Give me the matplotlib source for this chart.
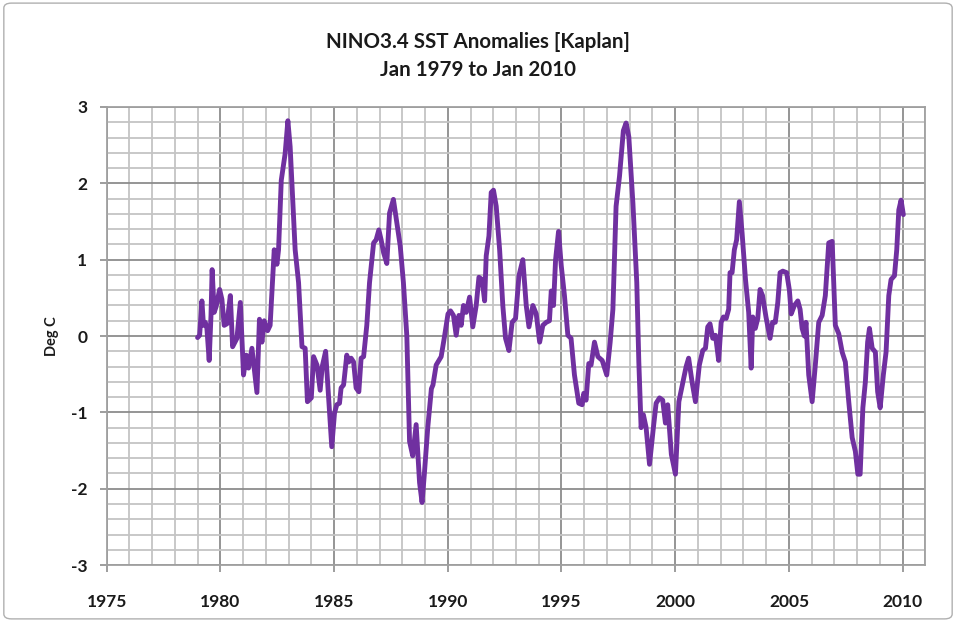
import matplotlib
matplotlib.use("Agg")
import matplotlib.pyplot as plt
from matplotlib.patches import FancyBboxPatch
from matplotlib.ticker import MultipleLocator

# Traced turning points of the monthly NINO3.4 series (decimal year, deg C)
years = [
    1979.00, 1979.09, 1979.19, 1979.26, 1979.34, 1979.41, 1979.51, 1979.59, 1979.64, 1979.73,
    1979.82, 1979.97, 1980.07, 1980.17, 1980.29, 1980.44, 1980.54, 1980.73, 1980.88, 1981.02,
    1981.14, 1981.24, 1981.39, 1981.61, 1981.72, 1981.83, 1981.93, 1982.08, 1982.19, 1982.37,
    1982.49, 1982.56, 1982.68, 1982.85, 1982.97, 1983.07, 1983.29, 1983.44, 1983.59, 1983.73,
    1983.83, 1984.00, 1984.10, 1984.25, 1984.39, 1984.48, 1984.63, 1984.77, 1984.90, 1985.02,
    1985.12, 1985.24, 1985.31, 1985.42, 1985.56, 1985.65, 1985.75, 1985.86, 1985.97, 1986.09,
    1986.19, 1986.30, 1986.44, 1986.56, 1986.74, 1986.85, 1986.97, 1987.07, 1987.18, 1987.32,
    1987.44, 1987.61, 1987.76, 1987.91, 1988.05, 1988.20, 1988.32, 1988.46, 1988.61, 1988.76,
    1988.87, 1988.97, 1989.12, 1989.28, 1989.35, 1989.49, 1989.71, 1989.86, 1990.01, 1990.12,
    1990.25, 1990.37, 1990.49, 1990.59, 1990.69, 1990.81, 1990.96, 1991.10, 1991.25, 1991.37,
    1991.51, 1991.62, 1991.69, 1991.81, 1991.91, 1992.01, 1992.13, 1992.28, 1992.42, 1992.54,
    1992.69, 1992.83, 1992.98, 1993.13, 1993.30, 1993.45, 1993.57, 1993.74, 1993.89, 1994.04,
    1994.18, 1994.33, 1994.47, 1994.55, 1994.65, 1994.74, 1994.87, 1994.99, 1995.13, 1995.28,
    1995.42, 1995.57, 1995.76, 1995.91, 1995.98, 1996.08, 1996.20, 1996.30, 1996.45, 1996.60,
    1996.79, 1996.99, 1997.14, 1997.26, 1997.40, 1997.55, 1997.72, 1997.84, 1997.96, 1998.14,
    1998.31, 1998.40, 1998.50, 1998.60, 1998.72, 1998.87, 1999.04, 1999.16, 1999.31, 1999.45,
    1999.57, 1999.67, 1999.83, 2000.01, 2000.16, 2000.30, 2000.48, 2000.59, 2000.74, 2000.89,
    2001.06, 2001.21, 2001.33, 2001.43, 2001.53, 2001.65, 2001.77, 2001.91, 2002.02, 2002.12,
    2002.24, 2002.35, 2002.41, 2002.50, 2002.60, 2002.70, 2002.82, 2002.94, 2003.09, 2003.23,
    2003.34, 2003.41, 2003.52, 2003.63, 2003.73, 2003.84, 2003.99, 2004.17, 2004.28, 2004.40,
    2004.51, 2004.61, 2004.73, 2004.90, 2005.02, 2005.10, 2005.24, 2005.39, 2005.49, 2005.58,
    2005.68, 2005.75, 2005.87, 2006.02, 2006.16, 2006.31, 2006.46, 2006.60, 2006.75, 2006.90,
    2007.04, 2007.19, 2007.34, 2007.48, 2007.63, 2007.78, 2007.92, 2008.03, 2008.13, 2008.25,
    2008.36, 2008.46, 2008.54, 2008.66, 2008.80, 2008.90, 2009.01, 2009.15, 2009.27, 2009.39,
    2009.49, 2009.64, 2009.74, 2009.83, 2009.93, 2010.03,
]
anomaly = [
    -0.02, 0.01, 0.46, 0.14, 0.18, 0.10, -0.32, 0.27, 0.87, 0.31,
    0.39, 0.61, 0.48, 0.14, 0.16, 0.53, -0.14, -0.03, 0.44, -0.51,
    -0.25, -0.42, -0.16, -0.74, 0.22, -0.08, 0.20, 0.07, 0.14, 1.13,
    0.94, 1.13, 2.04, 2.39, 2.82, 2.48, 1.13, 0.70, -0.14, -0.16,
    -0.86, -0.81, -0.27, -0.38, -0.71, -0.40, -0.20, -0.86, -1.45, -1.01,
    -0.90, -0.88, -0.68, -0.64, -0.25, -0.34, -0.29, -0.34, -0.68, -0.73,
    -0.29, -0.27, 0.14, 0.70, 1.22, 1.26, 1.39, 1.26, 1.09, 0.95,
    1.61, 1.79, 1.48, 1.18, 0.70, 0.00, -1.38, -1.57, -1.16, -1.92,
    -2.18, -1.81, -1.20, -0.69, -0.64, -0.38, -0.27, 0.00, 0.29, 0.33,
    0.27, 0.01, 0.27, 0.14, 0.40, 0.31, 0.51, 0.12, 0.40, 0.77,
    0.74, 0.46, 1.05, 1.31, 1.88, 1.91, 1.70, 1.13, 0.40, -0.03,
    -0.19, 0.18, 0.23, 0.79, 1.00, 0.40, 0.12, 0.40, 0.29, -0.08,
    0.14, 0.18, 0.20, 0.59, 0.40, 1.00, 1.37, 0.92, 0.53, 0.01,
    -0.03, -0.51, -0.88, -0.90, -0.75, -0.84, -0.36, -0.38, -0.08, -0.27,
    -0.32, -0.51, -0.08, 0.35, 1.70, 2.09, 2.69, 2.79, 2.61, 1.74,
    0.70, -0.34, -1.20, -1.03, -1.20, -1.68, -1.20, -0.88, -0.81, -0.84,
    -1.14, -0.90, -1.55, -1.81, -0.86, -0.66, -0.40, -0.29, -0.60, -0.86,
    -0.38, -0.19, -0.16, 0.12, 0.16, -0.03, 0.01, -0.32, 0.18, 0.25,
    0.23, 0.35, 0.83, 0.83, 1.13, 1.26, 1.76, 1.35, 0.74, 0.31,
    -0.42, 0.25, 0.10, 0.23, 0.61, 0.53, 0.25, -0.03, 0.18, 0.18,
    0.44, 0.83, 0.85, 0.83, 0.60, 0.29, 0.40, 0.46, 0.35, 0.10,
    0.00, 0.18, -0.51, -0.86, -0.38, 0.18, 0.27, 0.53, 1.22, 1.24,
    0.14, 0.03, -0.21, -0.34, -0.86, -1.33, -1.51, -1.81, -1.81, -0.94,
    -0.60, -0.08, 0.10, -0.16, -0.21, -0.73, -0.94, -0.51, -0.21, 0.53,
    0.74, 0.79, 1.13, 1.65, 1.78, 1.59,
]

title_lines = ["NINO3.4 SST Anomalies [Kaplan]", "Jan 1979 to Jan 2010"]
y_label = "Deg C"
x_ticks = [1975, 1980, 1985, 1990, 1995, 2000, 2005, 2010]
y_ticks = [-3, -2, -1, 0, 1, 2, 3]

FONT = ["Lato", "DejaVu Sans"]
plt.rcParams["font.family"] = FONT
plt.rcParams["axes.unicode_minus"] = False

fig = plt.figure(figsize=(9.56, 6.22), dpi=100)
ax = fig.add_axes([0.1115, 0.0915, 0.8565, 0.7365])

ax.set_xlim(1975, 2011)
ax.set_ylim(-3, 3)
ax.xaxis.set_major_locator(MultipleLocator(5))
ax.xaxis.set_minor_locator(MultipleLocator(1))
ax.yaxis.set_major_locator(MultipleLocator(1))
ax.yaxis.set_minor_locator(MultipleLocator(0.2))
ax.set_xticks(x_ticks)
ax.set_yticks(y_ticks)

ax.grid(which="minor", color="#c4c4c4", linewidth=1.3, zorder=0)
ax.grid(which="major", color="#8c8c8c", linewidth=1.3, zorder=0)
ax.set_axisbelow(True)

for s in ax.spines.values():
    s.set_color("#a0a0a0")
    s.set_linewidth(1.3)

ax.tick_params(axis="both", which="major", direction="out", length=5, width=1.2,
               color="#8c8c8c", labelsize=12.5, pad=9)
ax.tick_params(axis="both", which="minor", length=0)
ax.tick_params(axis="x", pad=16)
for lab in ax.get_xticklabels() + ax.get_yticklabels():
    lab.set_fontweight("bold")
    lab.set_color("#1a1a1a")

ax.plot(years, anomaly, color="#7030A0", linewidth=3.5, solid_joinstyle="round",
        solid_capstyle="round", zorder=3)

ax.set_ylabel(y_label, fontsize=10.5, fontweight="bold", labelpad=8, color="#1a1a1a")

fig.text(0.5, 0.932, title_lines[0], ha="center", va="center", fontsize=14.8,
         fontweight="bold", color="#1a1a1a")
fig.text(0.5, 0.887, title_lines[1], ha="center", va="center", fontsize=14.8,
         fontweight="bold", color="#1a1a1a")

border = FancyBboxPatch((0.004, 0.005), 0.992, 0.99, boxstyle="round,pad=0,rounding_size=0.008",
                        transform=fig.transFigure, fill=False, edgecolor="#b0b0b0",
                        linewidth=1.0, zorder=-1)
fig.patches.append(border)

fig.savefig("out.png", dpi=100)
